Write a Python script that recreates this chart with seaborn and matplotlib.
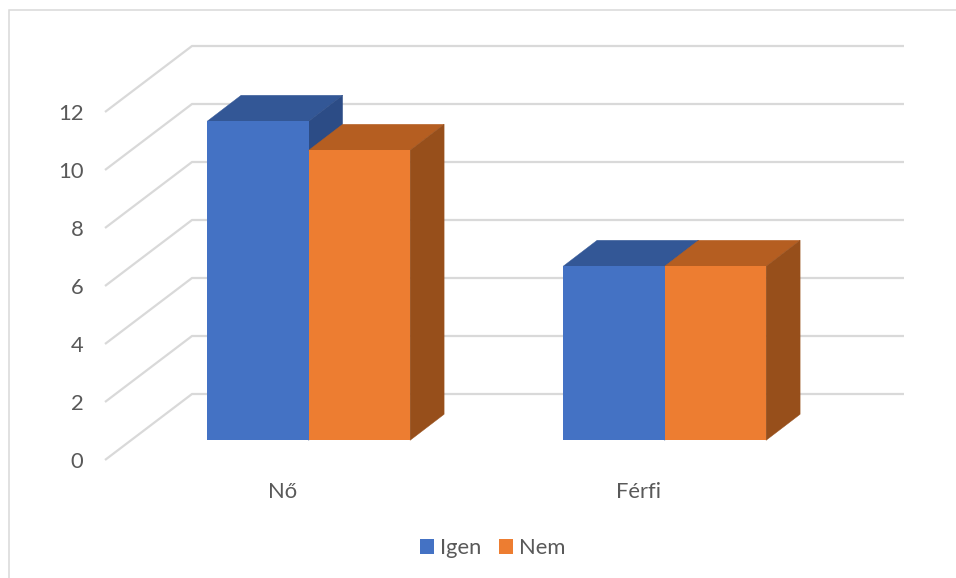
import matplotlib
matplotlib.use("Agg")
import matplotlib.pyplot as plt
import pandas as pd
import seaborn as sns
from matplotlib.lines import Line2D
from matplotlib.patches import Polygon, Rectangle

categories = ["Nő", "Férfi"]
series_names = ["Igen", "Nem"]
igen_values = [11, 6]
nem_values = [10, 6]
y_ticks = [0, 2, 4, 6, 8, 10, 12]

front_colors = ["#4472C4", "#ED7D31"]
top_colors = ["#335796", "#B55E21"]
side_colors = ["#2C4C86", "#974F1B"]
grid_color = "#D9D9D9"
text_color = "#595959"

W, H = 956, 578
DPI = 100
FS = 15.8
sns.set_theme(style="white")
plt.rcParams["font.family"] = ["Lato", "DejaVu Sans"]

df = pd.DataFrame({
    "cat": categories * 2,
    "series": [series_names[0]] * 2 + [series_names[1]] * 2,
    "value": igen_values + nem_values,
})

fig = plt.figure(figsize=(W / DPI, H / DPI), dpi=DPI, facecolor="white")
ax = fig.add_axes([105 / W, 1 - 460 / H, 712 / W, 348 / H])
ax.patch.set_visible(False)

sns.barplot(data=df, x="cat", y="value", hue="series", order=categories,
            hue_order=series_names, palette=front_colors, width=203 / 356,
            gap=0, dodge=True, saturation=1, linewidth=0, ax=ax, zorder=3)
ax.set_xlim(-0.5, 1.5)
ax.set_ylim(0, 12)
ax.set_xlabel("")
ax.set_ylabel("")
ax.set_yticks(y_ticks)
ax.tick_params(axis="y", length=0, pad=15.5, labelsize=FS, labelcolor=text_color)
ax.tick_params(axis="x", length=0, pad=15.5, labelsize=FS, labelcolor=text_color)
for s in ax.spines.values():
    s.set_visible(False)

px_x = 2.0 / 712          # data units per pixel horizontally
px_y = 12.0 / 348         # data units per pixel vertically
wall_dx, wall_dy = 87 * px_x, 66 * px_y
bar_off_x, bar_off_y = 25.6 * px_x, 19.7 * px_y
depth_x, depth_y = 34 * px_x, 26 * px_y

# Back wall with its gridlines and the side-wall diagonals
for v in y_ticks:
    ax.add_line(Line2D([-0.5, -0.5 + wall_dx, 1.5 + wall_dx],
                       [v, v + wall_dy, v + wall_dy],
                       color=grid_color, lw=1.6, clip_on=False, zorder=1,
                       solid_joinstyle="miter", solid_capstyle="butt"))

# Bars: shift each seaborn bar into the depth of the chart, add top and side
z = 3
for i, container in enumerate(ax.containers):
    for patch in container:
        x0 = patch.get_x() + bar_off_x
        w = patch.get_width()
        h = patch.get_height()
        y0 = bar_off_y
        patch.set_x(x0)
        patch.set_y(y0)
        patch.set_clip_on(False)
        top = Polygon([(x0, y0 + h), (x0 + w, y0 + h),
                       (x0 + w + depth_x, y0 + h + depth_y),
                       (x0 + depth_x, y0 + h + depth_y)],
                      closed=True, fc=top_colors[i], ec=top_colors[i], lw=0.3,
                      clip_on=False, zorder=z)
        side = Polygon([(x0 + w, y0), (x0 + w + depth_x, y0 + depth_y),
                        (x0 + w + depth_x, y0 + h + depth_y), (x0 + w, y0 + h)],
                       closed=True, fc=side_colors[i], ec=side_colors[i], lw=0.3,
                       clip_on=False, zorder=z)
        ax.add_patch(top)
        ax.add_patch(side)
        patch.set_zorder(z + 0.5)
    z += 1

handles, labels = ax.get_legend_handles_labels()
ax.legend(handles, labels, loc="center", ncol=2, frameon=False,
          bbox_to_anchor=(493 / W, 1 - 548 / H), bbox_transform=fig.transFigure,
          fontsize=FS, labelcolor=text_color, handlelength=0.64, handleheight=0.64,
          handletextpad=0.27, columnspacing=0.8, borderpad=0, borderaxespad=0)

# Chart-area border (top and left edges stay inside the picture)
fig.add_artist(Rectangle((8.5 / W, -0.1), 1.2, 0.1 + 1 - 10.5 / H,
                         transform=fig.transFigure, fill=False,
                         ec=grid_color, lw=1.1, zorder=0))

fig.savefig("out.png", dpi=DPI, facecolor="white")
